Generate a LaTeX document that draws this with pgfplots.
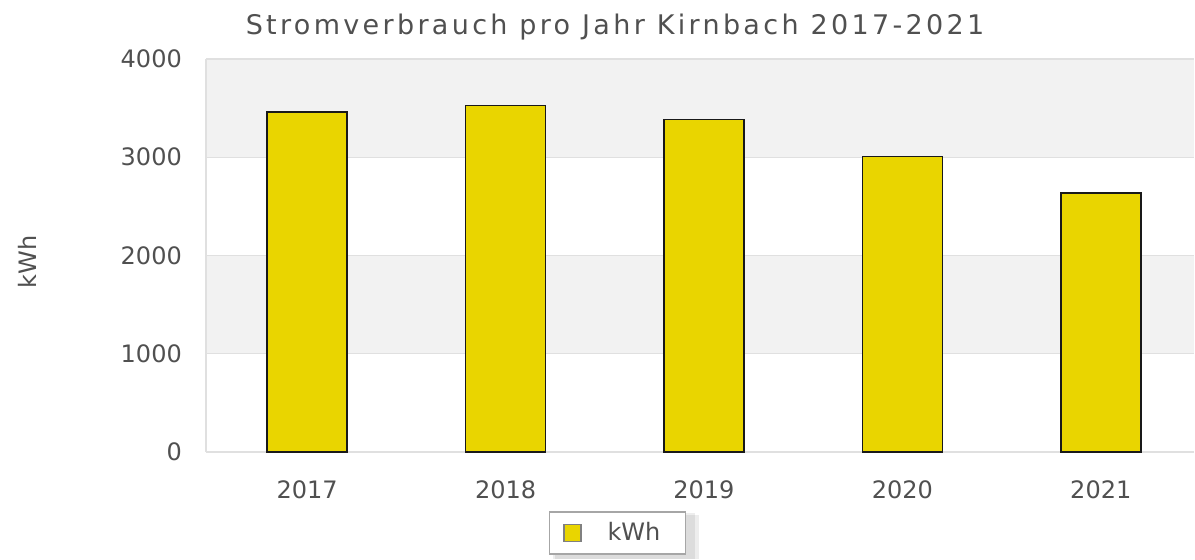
\documentclass[border=0pt]{standalone}
\usepackage{pgfplots}
\pgfplotsset{compat=1.18}
\usepackage{fontspec}
\setmainfont{DejaVu Sans}
\newfontfamily\titlefont[LetterSpace=12.3]{DejaVu Sans}
\definecolor{barc}{RGB}{233,213,0}
\definecolor{txt}{RGB}{80,80,80}
\definecolor{band}{RGB}{242,242,242}
\definecolor{gridc}{RGB}{224,224,224}
\begin{document}
\fontsize{24bp}{29bp}\selectfont
\begin{tikzpicture}[x=1bp,y=1bp]
\begin{axis}[
  set layers, clip=false,
  at={(206bp,107bp)}, anchor=south west,
  scale only axis, width=988bp, height=393bp,
  xmin=-0.51, xmax=4.47, ymin=0, ymax=4000,
  axis x line*=bottom, axis y line*=left,
  xtick={0,1,2,3,4}, xticklabels={2017,2018,2019,2020,2021},
  ytick={0,1000,2000,3000,4000},
  major tick length=0,
  axis line style={gridc, line width=1.2bp, -},
  ymajorgrids, major grid style={gridc, line width=1.2bp},
  tick label style={font=\fontsize{24bp}{29bp}\selectfont, text=txt},
  /pgf/number format/assume math mode=true,
  /pgf/number format/1000 sep={},
  yticklabel style={xshift=-16bp},
  xticklabel style={yshift=-20bp},
  legend style={at={(0.4164,-0.2061)}, anchor=center, draw=gray!70, fill=white,
    line width=1.2bp, inner xsep=14bp, inner ysep=8bp, column sep=24bp,
    font=\fontsize{24bp}{29bp}\selectfont, text=txt},
  legend cell align=left,
  legend image code/.code={\draw[fill=barc, draw=gray, line width=1.2bp] (0bp,-8.5bp) rectangle (17bp,8.5bp);},
]
\addplot[on layer=axis background, fill=band, draw=none, forget plot]
  coordinates {(-0.51,3000) (4.47,3000) (4.47,4000) (-0.51,4000)} -- cycle;
\addplot[on layer=axis background, fill=band, draw=none, forget plot]
  coordinates {(-0.51,1000) (4.47,1000) (4.47,2000) (-0.51,2000)} -- cycle;
\begin{pgfonlayer}{axis background}
\fill[black, opacity=0.07] (rel axis cs:0.3532,-0.2723) rectangle (rel axis cs:0.4990,-0.1603);
\fill[black, opacity=0.07] (rel axis cs:0.3512,-0.2723) rectangle (rel axis cs:0.4950,-0.1552);
\end{pgfonlayer}
\addplot[ybar, bar width=80bp, fill=barc, draw=black!90, line width=1.6bp]
  coordinates {(0,3458) (1,3525) (2,3385) (3,3006) (4,2633)};
\addlegendentry{kWh\rule{9bp}{0pt}}
\end{axis}
\node[text=txt, font=\titlefont\fontsize{27bp}{32bp}\selectfont] at (615,532) {Stromverbrauch pro Jahr Kirnbach 2017-2021};
\node[text=txt, rotate=90] at (27,297) {kWh};
\path (0,0) rectangle (1195,559);
\end{tikzpicture}
\end{document}
